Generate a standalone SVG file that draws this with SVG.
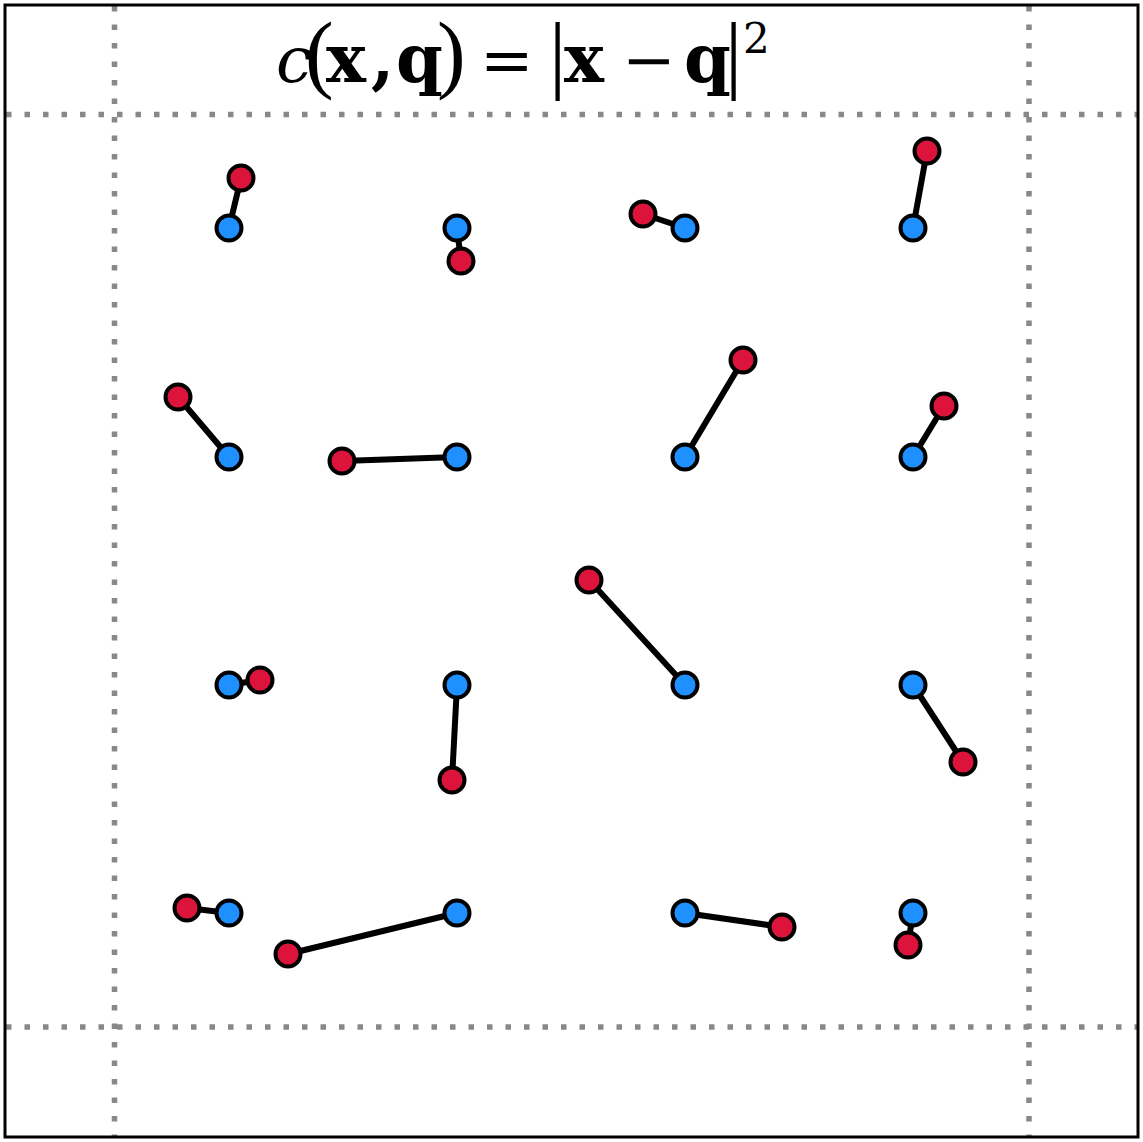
<svg xmlns="http://www.w3.org/2000/svg" width="1143" height="1142" viewBox="0 0 1143 1142">
<style>
.grid{stroke:#888;stroke-width:5.5;stroke-dasharray:5.5 13;fill:none}
.link{stroke:#000;stroke-width:6;stroke-linecap:round}
.b{fill:#1E90FF;stroke:#000;stroke-width:4}
.r{fill:#DC143C;stroke:#000;stroke-width:4}
.t{font-family:"DejaVu Serif","Liberation Serif",serif;fill:#000;font-size:64px;letter-spacing:-14px}
.bd{font-weight:bold;font-size:67px}
.p{font-family:"Liberation Serif","Times New Roman",serif;font-size:86px}
</style>
<rect x="0" y="0" width="1143" height="1142" fill="#fff"/>
<g id="grid">
<line class="grid" x1="114.5" y1="6" x2="114.5" y2="1136"/>
<line class="grid" x1="1029" y1="6" x2="1029" y2="1136"/>
<line class="grid" x1="6" y1="114.5" x2="1137" y2="114.5"/>
<line class="grid" x1="6" y1="1027" x2="1137" y2="1027"/>
</g>
<rect x="5" y="5" width="1133" height="1132" fill="none" stroke="#000" stroke-width="3"/>
<g id="title">
<text class="t" y="82"><tspan x="276" font-style="italic">c</tspan><tspan class="p" x="305">(</tspan><tspan class="bd" x="326">x</tspan><tspan class="bd" x="371">,</tspan><tspan class="bd" x="396">q</tspan><tspan class="p" x="437">)</tspan><tspan x="480">=</tspan><tspan class="p" x="549">|</tspan><tspan class="bd" x="564">x</tspan><tspan x="622">−</tspan><tspan class="bd" x="684">q</tspan><tspan class="p" x="725">|</tspan><tspan x="743" y="53" font-size="42">2</tspan></text>
</g>
<g id="connectors">
<line class="link" x1="229" y1="228" x2="241" y2="178"/>
<line class="link" x1="457" y1="228" x2="461" y2="261"/>
<line class="link" x1="685" y1="228" x2="643" y2="214"/>
<line class="link" x1="913" y1="228" x2="927" y2="151"/>
<line class="link" x1="229" y1="457" x2="178" y2="397"/>
<line class="link" x1="457" y1="457" x2="342" y2="461"/>
<line class="link" x1="685" y1="457" x2="743" y2="360"/>
<line class="link" x1="913" y1="457" x2="944" y2="406"/>
<line class="link" x1="229" y1="685" x2="260" y2="680"/>
<line class="link" x1="457" y1="685" x2="452" y2="780"/>
<line class="link" x1="685" y1="685" x2="589" y2="580"/>
<line class="link" x1="913" y1="685" x2="963" y2="762"/>
<line class="link" x1="229" y1="913" x2="187" y2="908"/>
<line class="link" x1="457" y1="913" x2="288" y2="954"/>
<line class="link" x1="685" y1="913" x2="782" y2="927"/>
<line class="link" x1="913" y1="913" x2="908" y2="945"/>
</g>
<g id="blue-points">
<circle id="b11" class="b" cx="229" cy="228" r="12.5"/>
<circle id="b12" class="b" cx="457" cy="228" r="12.5"/>
<circle id="b13" class="b" cx="685" cy="228" r="12.5"/>
<circle id="b14" class="b" cx="913" cy="228" r="12.5"/>
<circle id="b21" class="b" cx="229" cy="457" r="12.5"/>
<circle id="b22" class="b" cx="457" cy="457" r="12.5"/>
<circle id="b23" class="b" cx="685" cy="457" r="12.5"/>
<circle id="b24" class="b" cx="913" cy="457" r="12.5"/>
<circle id="b31" class="b" cx="229" cy="685" r="12.5"/>
<circle id="b32" class="b" cx="457" cy="685" r="12.5"/>
<circle id="b33" class="b" cx="685" cy="685" r="12.5"/>
<circle id="b34" class="b" cx="913" cy="685" r="12.5"/>
<circle id="b41" class="b" cx="229" cy="913" r="12.5"/>
<circle id="b42" class="b" cx="457" cy="913" r="12.5"/>
<circle id="b43" class="b" cx="685" cy="913" r="12.5"/>
<circle id="b44" class="b" cx="913" cy="913" r="12.5"/>
</g>
<g id="red-points">
<circle id="r11" class="r" cx="241" cy="178" r="12.5"/>
<circle id="r12" class="r" cx="461" cy="261" r="12.5"/>
<circle id="r13" class="r" cx="643" cy="214" r="12.5"/>
<circle id="r14" class="r" cx="927" cy="151" r="12.5"/>
<circle id="r21" class="r" cx="178" cy="397" r="12.5"/>
<circle id="r22" class="r" cx="342" cy="461" r="12.5"/>
<circle id="r23" class="r" cx="743" cy="360" r="12.5"/>
<circle id="r24" class="r" cx="944" cy="406" r="12.5"/>
<circle id="r31" class="r" cx="260" cy="680" r="12.5"/>
<circle id="r32" class="r" cx="452" cy="780" r="12.5"/>
<circle id="r33" class="r" cx="589" cy="580" r="12.5"/>
<circle id="r34" class="r" cx="963" cy="762" r="12.5"/>
<circle id="r41" class="r" cx="187" cy="908" r="12.5"/>
<circle id="r42" class="r" cx="288" cy="954" r="12.5"/>
<circle id="r43" class="r" cx="782" cy="927" r="12.5"/>
<circle id="r44" class="r" cx="908" cy="945" r="12.5"/>
</g>
</svg>
